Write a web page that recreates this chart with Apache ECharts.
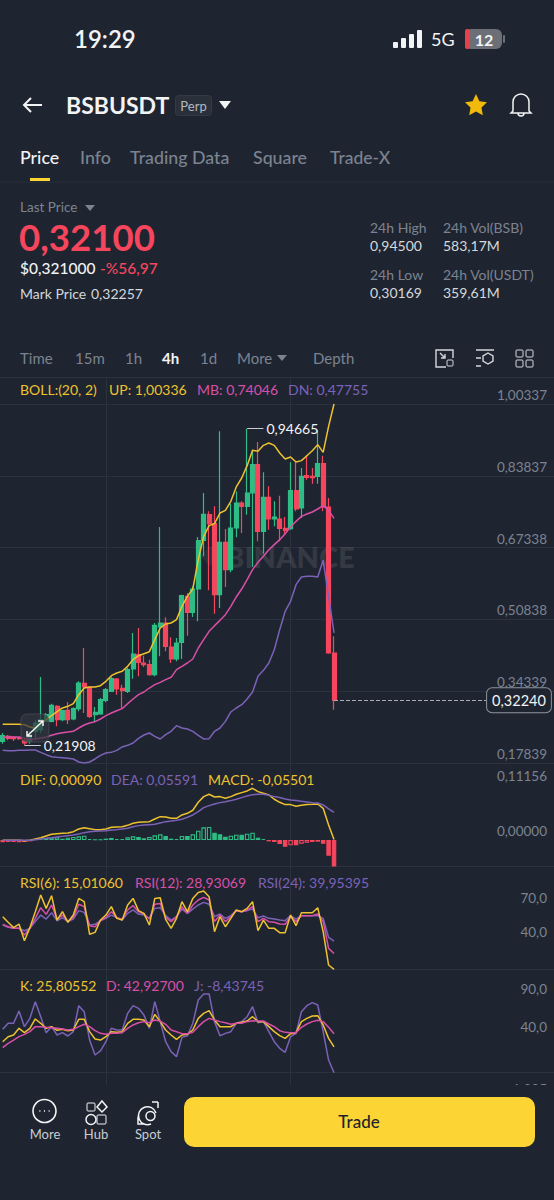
<!DOCTYPE html>
<html>
<head>
<meta charset="utf-8">
<style>html,body{margin:0;background:#1f2530}#chart{width:554px;height:1200px}</style>
<script src="https://cdn.jsdelivr.net/npm/echarts@6/dist/echarts.min.js"></script>
</head>
<body>
<div id="chart"></div>
<script>
// [open, close, low, high]
const candles = [
    [.2282,.2412,.2229,.2473],[.2397,.2351,.2305,.2427],[.2373,.2343,.2290,.2397],[.2366,.2343,.2320,.2381],
    [.2305,.2244,.21908,.2358],[.2282,.2435,.2229,.2512],[.2512,.2703,.2358,.2780],[.2550,.2780,.2473,.3760],
    [.2741,.2895,.2718,.2933],[.2741,.3109,.2718,.3147],[.3086,.2780,.2626,.3109],[.2780,.2986,.2741,.3010],
    [.2994,.2780,.2680,.3186],[.2795,.3033,.2764,.3063],[.3033,.3622,.2971,.3661],[.3615,.3531,.2933,.4427],
    [.3523,.2856,.2818,.3546],[.2895,.2948,.2726,.3071],[.2910,.3240,.2895,.3278],[.3224,.3469,.3178,.3507],
    [.3431,.3722,.3415,.3760],[.3714,.3484,.3354,.3737],[.3500,.3446,.3048,.3584],[.3431,.3929,.3393,.3967],
    [.3944,.4289,.3722,.4771],[.4273,.4097,.3776,.4886],[.4082,.4044,.3990,.4250],[.4044,.3814,.3791,.4159],
    [.3814,.4948,.3776,.5001],[.4909,.5001,.4235,.7207],[.5001,.4465,.4350,.5131],[.4450,.4174,.4082,.4672],
    [.4174,.4542,.4120,.4657],[.4557,.5629,.4174,.5652],[.5614,.5246,.4710,.5691],[.5246,.5782,.5139,.5844],
    [.5782,.6893,.5040,.6977],[.6901,.7498,.6533,.7989],[.7491,.7284,.5752,.7567],[.7284,.5652,.5216,.7682],
    [.5652,.6855,.5346,.9406],[.6855,.6227,.5828,.7161],[.6227,.7184,.6165,.7743],[.7184,.7759,.6970,.8027],
    [.7759,.7682,.7069,.7797],[.7682,.7989,.7491,.94665],[.7989,.8640,.6288,.8984],[.8640,.7108,.6878,.9161],
    [.7108,.7889,.6594,.8464],[.7889,.7391,.7146,.8142],[.7391,.7437,.7223,.7797],[.7391,.7177,.6878,.7927],
    [.7177,.7131,.7031,.7437],[.7169,.8042,.7146,.8693],[.8042,.7621,.7567,.8693],[.7644,.8372,.7414,.8563],
    [.8387,.8349,.8295,.8846],[.8372,.8341,.8203,.8563],[.8372,.8663,.8203,.9444],[.8663,.7667,.7567,.8846],
    [.7667,.4312,.4296,.7874],[.4312,.3224,.3010,.4695],
];
const bollUp = [.2672,.2672,.2672,.2672,.2665,.2611,.2581,.2688,.2780,.2872,.2964,.3048,.3086,.3147,.3354,.3507,.3531,.3531,.3561,.3661,
    .3791,.3852,.3891,.4005,.4159,.4250,.4296,.4342,.4618,.4886,.4978,.5001,.5078,.5384,.5614,.5782,.6457,.6993,.7238,.7284,
    .7529,.7590,.7797,.8127,.8333,.8617,.8969,.8946,.9084,.9138,.9084,.8908,.8770,.8816,.8701,.8732,.8846,.8961,.9099,.8923,.9521,1.00336];
const bollMid = [.2381,.2381,.2381,.2381,.2358,.2320,.2336,.2358,.2381,.2420,.2458,.2481,.2496,.2512,.2588,.2657,.2703,.2734,.2795,.2872,
    .2933,.2986,.3033,.3147,.3255,.3354,.3415,.3507,.3584,.3638,.3699,.3753,.3929,.4005,.4082,.4174,.4427,.4618,.4810,.4940,
    .5062,.5193,.5384,.5599,.5782,.5997,.6227,.6395,.6533,.6686,.6801,.6916,.7054,.7207,.7337,.7452,.7506,.7552,.7621,.7697,.7590,.74046];
const bollDn = [.2075,.2067,.2067,.2075,.2075,.2083,.2083,.2029,.1975,.1929,.1914,.1906,.1891,.1876,.1807,.1784,.1807,.1876,.1960,.2014,
    .2029,.2075,.2152,.2190,.2244,.2351,.2427,.2473,.2397,.2336,.2435,.2512,.2642,.2588,.2565,.2512,.2420,.2336,.2343,.2512,
    .2588,.2741,.2956,.3048,.3124,.3255,.3415,.3776,.3913,.4082,.4388,.4848,.5269,.5499,.5882,.6058,.6074,.6074,.6058,.6441,.5614,.47755];
const dif = [-.0007,-.0007,-.0007,-.0007,-.0014,-.0007,.0020,.0047,.0081,.0115,.0128,.0135,.0142,.0169,.0223,.0250,.0230,.0210,.0210,.0223,
    .0257,.0264,.0270,.0297,.0338,.0358,.0365,.0372,.0426,.0473,.0466,.0439,.0439,.0507,.0541,.0602,.0764,.0879,.0926,.0872,
    .0879,.0845,.0879,.0926,.0960,.0994,.1048,.0980,.0946,.0913,.0825,.0764,.0717,.0717,.0683,.0703,.0717,.0723,.0730,.0642,.0304,.0009];
const dea = [-.0007,-.0007,-.0007,-.0007,-.0007,-.0007,.0007,.0020,.0034,.0047,.0061,.0074,.0088,.0101,.0122,.0149,.0169,.0176,.0183,.0189,
    .0203,.0210,.0223,.0237,.0270,.0291,.0304,.0311,.0318,.0345,.0372,.0385,.0399,.0419,.0460,.0507,.0575,.0656,.0696,.0730,
    .0757,.0777,.0798,.0825,.0859,.0892,.0919,.0926,.0926,.0906,.0879,.0859,.0831,.0811,.0798,.0784,.0771,.0757,.0750,.0710,.0629,.0559];
const macdHist = [-.0047,-.0041,-.0041,-.0047,-.0041,-.0027,.0020,.0020,.0041,.0047,.0054,.0027,.0047,.0061,.0074,.0088,.0020,.0007,.0007,.0027,
    .0041,.0020,.0020,.0054,.0074,.0061,.0034,.0061,.0095,.0115,.0081,.0027,.0020,.0081,.0081,.0115,.0189,.0257,.0264,.0149,
    .0115,.0068,.0088,.0108,.0108,.0128,.0149,.0047,.0020,-.0027,-.0041,-.0081,-.0135,-.0108,-.0108,-.0074,-.0054,-.0041,-.0034,-.0074,-.0318,-.05501];
const rsi6 = [61.5,56.5,51.8,55.0,40.3,51.8,65.9,80.6,68.8,80.0,58.5,65.9,56.5,62.9,77.6,74.7,45.9,47.6,58.5,62.9,
    70.3,60.0,58.5,71.8,77.6,66.8,64.4,54.1,77.6,78.2,59.1,51.2,60.0,74.7,65.9,77.6,82.9,84.1,79.1,48.2,
    61.5,52.6,60.0,67.4,65.9,68.8,74.7,49.1,58.5,51.2,51.2,47.4,47.4,62.9,53.5,65.0,65.0,65.0,69.4,48.2,18.8,15.01];
const rsi12 = [54.7,52.6,51.2,51.2,45.3,51.2,60.0,69.4,63.5,71.8,59.4,62.9,57.6,60.6,72.4,70.3,53.5,52.6,57.9,60.9,
    65.9,60.9,59.1,67.4,71.2,65.9,63.8,59.4,72.4,73.2,60.9,57.1,61.5,70.3,64.4,71.8,76.2,78.5,76.2,57.1,
    62.9,57.1,61.5,66.8,65.9,67.4,70.3,57.1,60.0,57.1,56.5,55.0,54.7,61.5,57.1,62.4,62.4,62.4,63.8,57.1,33.5,28.93];
const rsi24 = [54.1,52.1,51.2,51.2,49.1,51.2,57.1,62.9,59.4,65.0,57.9,60.6,57.1,59.4,66.8,65.3,54.1,54.7,57.9,60.0,
    62.9,60.6,58.5,64.4,67.4,63.8,62.9,60.0,68.8,69.4,62.4,58.5,61.5,68.2,64.4,68.2,71.8,74.1,72.4,61.5,
    63.8,60.0,62.4,66.8,65.9,66.8,68.2,60.6,62.1,60.0,59.4,58.5,57.9,62.4,59.4,62.4,62.4,62.4,62.4,60.0,43.2,39.95];
const kLine = [32.5,39.1,41.3,50.1,44.4,50.1,62.4,56.7,50.1,52.3,47.5,48.8,47.0,47.9,61.9,61.9,45.7,36.1,34.7,39.1,
    45.7,44.8,45.7,56.7,61.9,61.9,61.1,52.3,68.5,58.9,47.9,41.3,35.6,41.3,42.2,47.9,63.2,69.8,73.3,61.1,
    52.3,52.3,52.3,56.7,58.0,59.7,65.4,58.9,58.9,52.3,45.7,40.4,36.9,43.1,44.4,58.9,63.2,66.3,66.8,54.5,36.9,25.81];
const dLine = [24.6,30.4,34.7,39.1,42.2,45.7,52.3,52.3,51.4,51.0,50.1,49.2,47.9,48.8,52.3,55.4,52.3,47.0,43.5,42.2,
    43.5,43.5,44.4,50.1,54.5,57.5,58.9,57.5,61.1,59.7,55.4,47.9,45.7,43.1,43.1,44.8,52.3,58.9,63.2,61.1,
    58.9,57.5,55.4,56.7,56.7,58.9,60.2,59.7,59.7,55.8,52.3,47.0,44.8,44.4,44.4,51.4,55.8,58.9,60.6,58.9,51.4,42.93];
const jLine = [48.8,56.7,56.7,72.9,52.3,63.2,85.2,65.4,44.4,52.3,41.3,44.4,40.0,45.7,79.9,72.0,34.7,15.0,20.3,32.5,
    50.1,47.9,47.9,69.8,79.9,76.4,67.6,50.1,85.2,58.9,32.5,19.4,12.8,38.2,40.4,56.7,87.4,95.3,95.3,58.9,
    40.4,43.5,45.7,56.7,58.9,65.4,78.6,57.5,58.9,45.7,32.5,23.8,18.5,39.1,43.5,72.0,79.9,83.9,80.8,45.7,8.4,-8.44];

const priceTicks = [1.00337, 0.83837, 0.67338, 0.50838, 0.34339, 0.17839];
const macdTicks = [0.11156, 0];
const rsiTicks = [70, 40];
const kdjTicks = [90, 40];
const highPoint = [45, 0.94665];
const lowPoint = [4, 0.21908];
const lastPrice = 0.3224;

const BG = '#1f2530';
const GRID = '#2c323d';
const GREEN = '#2ebd85';
const RED = '#f6465d';
const YELLOW = '#eec22f';
const PINK = '#d94fa8';
const PURPLE = '#7b62b8';
const FONT = 'Lato, "Noto Sans", sans-serif';

// the screen keeps 40 empty slots right of the last candle
const categories = Array.from({length: 102}, (_, i) => (i < candles.length ? 'c' + i : ''));
const comma = (v, d) => v.toFixed(d).replace('.', ',');

function panelX(gridIndex) {
    return {
        type: 'category', gridIndex, data: categories,
        axisLine: {show: true, onZero: false, lineStyle: {color: GRID}},
        axisTick: {show: false}, axisLabel: {show: false},
        splitLine: {show: true, alignWithLabel: true, interval: (i) => i === 19 || i === 53, lineStyle: {color: GRID}},
    };
}
function panelY(gridIndex, min, max, labels, digits, lines) {
    return {
        type: 'value', gridIndex, min, max, position: 'right', scale: true,
        axisLine: {show: false},
        axisTick: {show: false, customValues: lines.length ? lines : [max]},
        splitLine: {show: lines.length > 0, lineStyle: {color: GRID}},
        axisLabel: {
            show: true, inside: true, margin: 7, customValues: labels, verticalAlign: 'bottom', padding: [0, 0, 2, 0],
            color: '#7c8390', fontSize: 13.5, fontFamily: FONT, formatter: (v) => comma(v, digits),
        },
    };
}
function lineSeries(name, data, color, axis) {
    return {
        type: 'line', name, data, xAxisIndex: axis, yAxisIndex: axis, symbol: 'none', silent: true, clip: false, z: 3,
        lineStyle: {color, width: 1.5}, animation: false,
    };
}

// chrome helpers, all page furniture around the chart
function txt(x, y, text, fill, size, weight, align, z) {
    return {type: 'text', x, y, z: z || 60, silent: true, style: {
        text, fill, textAlign: align || 'left', textVerticalAlign: 'middle',
        font: (weight || 400) + ' ' + size + 'px ' + FONT,
    }};
}
let shapeCount = 0;
function path(pathData, stroke, fill, width, z) {
    // the graphic component has no plain path type, so each icon is registered as a shape
    const type = 'icon' + shapeCount++;
    echarts.graphic.registerShape(type, echarts.graphic.extendPath(pathData, {}));
    return {type, z: z || 60, silent: true,
        style: {stroke: stroke || null, fill: fill || 'none', lineWidth: width || 1.5}};
}
function box(x, y, width, height, fill, r, z, stroke) {
    return {type: 'rect', z: z || 60, silent: true, shape: {x, y, width, height, r: r || 0},
        style: {fill, stroke: stroke || null, lineWidth: 1}};
}
const W = '#f2f3f5';
const G = '#7c8390';
const elements = [
    // status bar
    txt(74, 38, '19:29', W, 24, 600),
    box(393, 42, 5, 6, W, 1), box(401, 38, 5, 10, W, 1), box(409, 34, 5, 14, W, 1), box(417, 30, 5, 18, W, 1),
    txt(431, 39, '5G', W, 18),
    box(465, 29, 37, 20, '#6c6f75', 6), box(465, 29, 5, 20, '#e8404a', 2),
    box(503, 35, 2, 8, '#6c6f75', 1),
    txt(484, 39, '12', W, 16, 700, 'center'),
    // title row
    path('M42 105H24M31 98L24 105L31 112', W, null, 2),
    txt(66, 105, 'BSBUSDT', W, 23, 700),
    box(175.5, 95.5, 36, 20, '#2a303a', 3, 60, '#333a45'),
    txt(193.5, 105.5, 'Perp', '#b4b9c1', 13, 400, 'center'),
    path('M219 101H231L225 109Z', null, W),
    path('M476 94L479.4 101.2L487 102.2L481.5 107.5L482.8 115.2L476 111.4L469.2 115.2L470.5 107.5L465 102.2L472.6 101.2Z', null, '#f0b90b'),
    path('M513 111V102A8 8 0 0 1 529 102V111L531 113H511ZM518 113A3 3 0 0 0 524 113', W, null, 1.5),
    // tabs
    txt(20, 157, 'Price', W, 17.8, 500),
    txt(80, 157, 'Info', G, 17.8, 500),
    txt(130, 157, 'Trading Data', G, 17.8, 500),
    txt(253, 157, 'Square', G, 17.8, 500),
    txt(330, 157, 'Trade-X', G, 17.5, 500),
    box(30, 178, 20, 3, '#fcd535'),
    box(0, 181.5, 554, 1, '#282e38'),
    // price block
    txt(20, 207, 'Last Price', G, 13.5),
    path('M85 205H95L90 211Z', null, G),
    txt(19, 237, '0,32100', RED, 36.6, 700),
    txt(20, 268, '$0,321000', W, 15.5, 500),
    txt(100, 268, '-%56,97', RED, 15.5, 500),
    txt(20, 293, 'Mark Price', '#d5d8dc', 14),
    txt(91, 293, '0,32257', '#d5d8dc', 14),
    txt(370, 227, '24h High', G, 14), txt(443, 227, '24h Vol(BSB)', G, 14),
    txt(370, 245, '0,94500', '#d5d8dc', 14), txt(443, 245, '583,17M', '#d5d8dc', 14),
    txt(370, 274, '24h Low', G, 14), txt(443, 274, '24h Vol(USDT)', G, 14),
    txt(370, 292, '0,30169', '#d5d8dc', 14), txt(443, 292, '359,61M', '#d5d8dc', 14),
    // interval row
    txt(20, 358, 'Time', G, 15), txt(75, 358, '15m', G, 15), txt(125, 358, '1h', G, 15),
    txt(162, 358, '4h', W, 15, 700), txt(200, 358, '1d', G, 15), txt(237, 358, 'More', G, 15),
    path('M277 355H287L282 361Z', null, G),
    txt(313, 358, 'Depth', G, 15),
    path('M453 358V350H436V367H446M440 353L445 358M445 354V358H441', '#d5d8dc', null, 1.4), box(447, 360, 6, 6, 'none', 1, 60, '#d5d8dc'),
    path('M476 350H494M476 358H481M476 366H481M488 353L493 356V361L488 364L483 361V356Z', '#d5d8dc', null, 1.4),
    box(516, 350, 7, 7, 'none', 1, 60, '#d5d8dc'), box(526, 350, 7, 7, 'none', 1, 60, '#d5d8dc'),
    box(516, 360, 7, 7, 'none', 1, 60, '#d5d8dc'), box(526, 360, 7, 7, 'none', 1, 60, '#d5d8dc'),
    // watermark sits under the candles
    txt(225, 556, 'BINANCE', 'rgba(255,255,255,0.09)', 29, 800, 'left', 1),
    path('M210 546L220 556L210 566L200 556Z', null, 'rgba(255,255,255,0.06)', 1, 1),
    // indicator headers
    txt(20, 389, 'BOLL:(20, 2)', YELLOW, 14), txt(109, 389, 'UP: 1,00336', YELLOW, 14),
    txt(197, 389, 'MB: 0,74046', PINK, 14), txt(288, 389, 'DN: 0,47755', PURPLE, 14),
    txt(20, 779, 'DIF: 0,00090', YELLOW, 14), txt(111, 779, 'DEA: 0,05591', PURPLE, 14),
    txt(208, 779, 'MACD: -0,05501', YELLOW, 14),
    txt(20, 882, 'RSI(6): 15,01060', YELLOW, 14), txt(135, 882, 'RSI(12): 28,93069', PINK, 14),
    txt(258, 882, 'RSI(24): 39,95395', PURPLE, 14),
    txt(20, 985, 'K: 25,80552', YELLOW, 14), txt(106, 985, 'D: 42,92700', PINK, 14),
    txt(194, 985, 'J: -8,43745', PURPLE, 14),
    // expand handle over the first candles
    box(21, 714, 28, 28, 'rgba(48,52,62,0.7)', 6, 70, 'rgba(100,100,110,0.45)'),
    path('M27 736L43 721M27 731V736H32M38 721H43V726', W, null, 1.5, 71),
    // next panel is cut off by the bottom bar
    txt(20, 1089, 'OBV: 1.477.698.861,00000', YELLOW, 14),
    txt(547, 1089, '1,035', G, 13.5, 400, 'right'),
    box(0, 1085, 554, 115, BG, 0, 80),
    path('M56 1111A11.5 11.5 0 1 1 33 1111A11.5 11.5 0 1 1 56 1111Z', W, null, 1.6, 81),
    path('M39.5 1111h.8M44.1 1111h.8M48.7 1111h.8', W, null, 2, 81),
    box(87, 1103, 8, 8, 'none', 1, 81, W), box(97, 1115, 9, 9, 'none', 1, 81, W),
    path('M102 1101L107 1107L102 1112L97 1107Z', W, null, 1.5, 81),
    path('M96 1119.5A5 5 0 1 1 86 1119.5A5 5 0 1 1 96 1119.5Z', W, null, 1.5, 81),
    path('M138 1117V1124H144M158 1102V1108M152 1102H158M151 1124A9 9 0 1 1 156 1113', W, null, 1.5, 81),
    path('M155 1116A4.5 4.5 0 1 1 146 1116A4.5 4.5 0 1 1 155 1116Z', W, null, 1.5, 81),
    txt(45, 1134, 'More', '#c8ccd2', 13, 400, 'center', 81),
    txt(96, 1134, 'Hub', '#c8ccd2', 13, 400, 'center', 81),
    txt(148, 1134, 'Spot', '#c8ccd2', 13, 400, 'center', 81),
    box(184, 1097, 351, 50, '#fcd535', 10, 81),
    txt(359, 1121, 'Trade', '#1e2329', 17, 500, 'center', 82),
];

const histData = macdHist.map((v, i) => {
    // rising bars are drawn hollow, except the very small ones near zero
    const hollow = i > 0 && v > macdHist[i - 1] && Math.abs(v) > 0.002;
    const color = v >= 0 ? GREEN : RED;
    return {value: v, itemStyle: {color: hollow ? 'transparent' : color, borderColor: color, borderWidth: 1.1}};
});

const chart = echarts.init(document.getElementById('chart'), null, {renderer: 'svg'});
chart.setOption({
    animation: false,
    backgroundColor: BG,
    textStyle: {fontFamily: FONT},
    grid: [
        {left: -1, width: 556.8, top: 377, height: 386},
        {left: -1, width: 556.8, top: 763, height: 103},
        {left: -1, width: 556.8, top: 866, height: 103},
        {left: -1, width: 556.8, top: 969, height: 116},
    ],
    xAxis: [panelX(0), panelX(1), panelX(2), Object.assign(panelX(3), {axisLine: {show: false}})],
    yAxis: [
        panelY(0, 0.17839, 1.06542, priceTicks, 5, priceTicks.concat(1.06542)),
        panelY(1, -0.0527, 0.156, macdTicks, 5, []),
        panelY(2, 15.3, 106.2, rsiTicks, 1, []),
        panelY(3, -24.47, 128.16, kdjTicks, 1, [-7.37]),
    ],
    series: [
        {
            type: 'candlestick', name: 'BSBUSDT', data: candles, xAxisIndex: 0, yAxisIndex: 0, barWidth: 4.5, silent: true, z: 2,
            itemStyle: {color: GREEN, color0: RED, borderColor: GREEN, borderColor0: RED, borderWidth: 1.2},
            markLine: {
                silent: true, symbol: 'none', animation: false,
                data: [
                    [{coord: highPoint, lineStyle: {color: '#c9ccd1', width: 1, type: 'solid'},
                        label: {show: true, position: 'end', distance: 3, color: W, fontSize: 14, fontFamily: FONT, formatter: comma(highPoint[1], 5)}},
                        {coord: [48, highPoint[1]]}],
                    [{coord: lowPoint, lineStyle: {color: '#c9ccd1', width: 1, type: 'solid'},
                        label: {show: true, position: 'end', distance: 3, color: W, fontSize: 14, fontFamily: FONT, formatter: comma(lowPoint[1], 5)}},
                        {coord: [7, lowPoint[1]]}],
                    [{coord: [61, lastPrice], lineStyle: {color: '#a8adb5', width: 1, type: 'dashed'},
                        label: {show: true, position: 'end', distance: 1, color: W, fontSize: 14.5, fontFamily: FONT, formatter: comma(lastPrice, 5),
                            backgroundColor: BG, borderColor: '#8f949c', borderWidth: 1, borderRadius: 5, padding: [5, 5, 4, 5]}},
                        {coord: [89, lastPrice]}],
                ],
            },
        },
        lineSeries('UP', bollUp, YELLOW, 0),
        lineSeries('MB', bollMid, PINK, 0),
        lineSeries('DN', bollDn, PURPLE, 0),
        {type: 'bar', name: 'MACD', data: histData, xAxisIndex: 1, yAxisIndex: 1, barWidth: 4.5, silent: true, z: 2},
        lineSeries('DIF', dif, YELLOW, 1),
        lineSeries('DEA', dea, PURPLE, 1),
        lineSeries('RSI(24)', rsi24, PURPLE, 2),
        lineSeries('RSI(12)', rsi12, PINK, 2),
        lineSeries('RSI(6)', rsi6, YELLOW, 2),
        lineSeries('J', jLine, PURPLE, 3),
        lineSeries('K', kLine, YELLOW, 3),
        lineSeries('D', dLine, PINK, 3),
    ],
    graphic: {elements},
});
</script>
</body>
</html>
